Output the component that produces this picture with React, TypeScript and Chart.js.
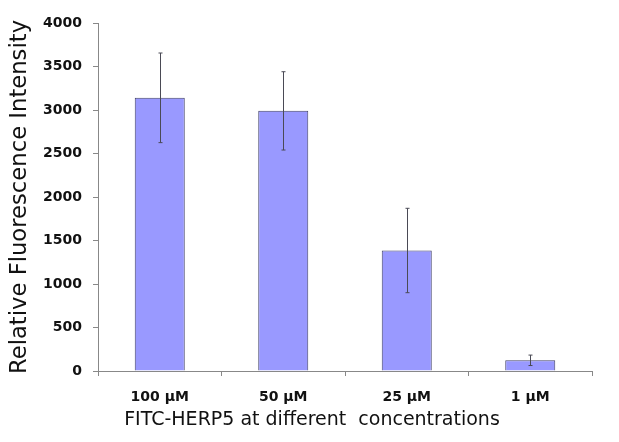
import React, { useEffect, useRef } from "react";
import { Chart, registerables } from "chart.js";

Chart.register(...registerables);

const categories = ["100 µM", "50 µM", "25 µM", "1 µM"];
const values = [3140, 2990, 1385, 123];
const errors = [515, 450, 485, 60];
const yTicks = [0, 500, 1000, 1500, 2000, 2500, 3000, 3500, 4000];

const errorBarPlugin = {
  id: "errorBars",
  afterDatasetsDraw(chart: any) {
    const { ctx } = chart;
    const meta = chart.getDatasetMeta(0);
    const yScale = chart.scales.y;
    ctx.save();
    ctx.strokeStyle = "#4a4a55";
    ctx.lineWidth = 1;
    meta.data.forEach((bar: any, i: number) => {
      const x = Math.round(bar.x) + 0.5;
      const yTop = yScale.getPixelForValue(values[i] + errors[i]);
      const yBot = yScale.getPixelForValue(values[i] - errors[i]);
      ctx.beginPath();
      ctx.moveTo(x, yTop);
      ctx.lineTo(x, yBot);
      ctx.moveTo(x - 2, yTop);
      ctx.lineTo(x + 2, yTop);
      ctx.moveTo(x - 2, yBot);
      ctx.lineTo(x + 2, yBot);
      ctx.stroke();
    });
    ctx.restore();
  },
};

export default function App() {
  const ref = useRef<HTMLCanvasElement>(null);
  useEffect(() => {
    if (!ref.current) return;
    const chart = new Chart(ref.current, {
      type: "bar",
      data: {
        labels: categories,
        datasets: [
          {
            data: values,
            backgroundColor: "#9999ff",
            borderColor: "#404068",
            borderWidth: 1,
            barPercentage: 0.81,
            categoryPercentage: 0.5,
          },
        ],
      },
      options: {
        animation: false,
        responsive: false,
        devicePixelRatio: 1,
        layout: { padding: { top: 23, right: 0, left: 5, bottom: 0 } },
        plugins: {
          legend: { display: false },
          tooltip: { enabled: false },
          title: {
            display: true,
            position: "bottom",
            text: "FITC-HERP5 at different  concentrations",
            color: "#111111",
            font: { family: "DejaVu Sans", size: 19, weight: "normal" },
            padding: { top: 0, bottom: 11 },
          },
        },
        scales: {
          x: {
            offset: true,
            afterFit: (s: any) => {
              s.height = 71 - (19 * 1.2 + 11);
            },
            grid: {
              offset: true,
              drawOnChartArea: false,
              tickLength: 5,
              color: "#888888",
            },
            border: { color: "#888888", width: 1 },
            ticks: {
              color: "#111111",
              padding: 13,
              font: { family: "DejaVu Sans", size: 14, weight: "bold" },
            },
          },
          y: {
            min: 0,
            max: 4000,
            afterFit: (s: any) => {
              s.width = 93;
            },
            afterBuildTicks: (s: any) => {
              s.ticks = yTicks.map((v) => ({ value: v }));
            },
            grid: {
              drawOnChartArea: false,
              tickLength: 5,
              color: "#888888",
            },
            border: { color: "#888888", width: 1 },
            ticks: {
              color: "#111111",
              padding: 11,
              font: { family: "DejaVu Sans", size: 14, weight: "bold" },
              callback: (v: any) => String(v),
            },
            title: {
              display: true,
              text: "Relative Fluorescence Intensity",
              color: "#111111",
              font: { family: "DejaVu Sans", size: 22.7 },
              padding: { top: 1, bottom: 0 },
            },
          },
          y2: {
            type: "linear",
            position: "right",
            display: true,
            afterFit: (s: any) => {
              s.width = 27;
            },
            grid: { display: false },
            border: { display: false },
            ticks: { display: false },
          },
        },
      },
      plugins: [errorBarPlugin],
    });
    return () => chart.destroy();
  }, []);
  return (
    <div style={{ position: "absolute", left: 0, top: 0, width: 619, height: 442, background: "#fff" }}>
      <canvas ref={ref} width={619} height={442} />
    </div>
  );
}
